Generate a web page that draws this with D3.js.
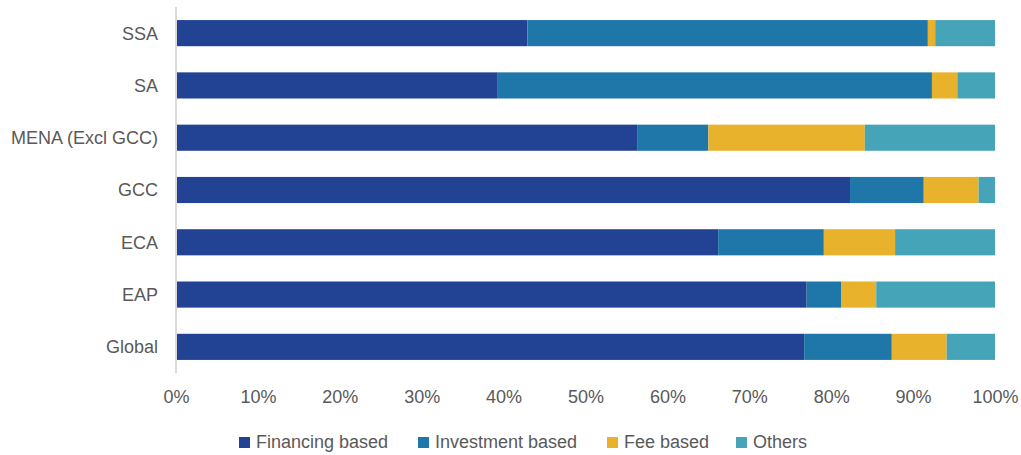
<!DOCTYPE html>
<html>
<head>
<meta charset="utf-8">
<script src="https://cdn.jsdelivr.net/npm/d3@7"></script>
<style>
    body { margin: 0; background: #fff; }
    svg { display: block; font-family: "Liberation Sans", Arial, sans-serif; }
</style>
</head>
<body>
<script>
// regions, top to bottom
const regions = ["SSA", "SA", "MENA (Excl GCC)", "GCC", "ECA", "EAP", "Global"];
const seriesNames = ["Financing based", "Investment based", "Fee based", "Others"];
const seriesColors = ["#224394", "#1f76a8", "#e8b22c", "#46a4b8"];

// shares in %, one list per series, same order as regions
const financing = [42.9, 39.2, 56.3, 82.3, 66.2, 77.0, 76.7];
const investment = [48.9, 53.1, 8.7, 9.0, 12.9, 4.2, 10.7];
const fee = [0.9, 3.1, 19.1, 6.7, 8.7, 4.3, 6.7];
const others = [7.3, 4.6, 15.9, 2.0, 12.2, 14.5, 5.9];

const xTicks = [0, 10, 20, 30, 40, 50, 60, 70, 80, 90, 100];

const width = 1021, height = 455;
const margin = {top: 7, right: 26, bottom: 82, left: 176};
const fontSize = "18px";

const rows = regions.map((r, i) => ({
    region: r,
    "Financing based": financing[i],
    "Investment based": investment[i],
    "Fee based": fee[i],
    "Others": others[i]
}));

const stacked = d3.stack().keys(seriesNames)(rows);

const svg = d3.select("body").append("svg")
    .attr("width", width)
    .attr("height", height);

const x = d3.scaleLinear()
    .domain([0, 100])
    .range([margin.left, width - margin.right]);

const y = d3.scaleBand()
    .domain(regions)
    .range([margin.top, height - margin.bottom])
    .paddingInner(0.5)
    .paddingOuter(0.25);

// bars
svg.append("g")
    .selectAll("g")
    .data(stacked)
    .join("g")
    .attr("fill", (d, i) => seriesColors[i])
    .selectAll("rect")
    .data(d => d)
    .join("rect")
    .attr("x", d => x(d[0]))
    .attr("width", d => x(d[1]) - x(d[0]))
    .attr("y", d => y(d.data.region))
    .attr("height", y.bandwidth());

// vertical axis line
svg.append("line")
    .attr("x1", x(0)).attr("x2", x(0))
    .attr("y1", margin.top).attr("y2", height - margin.bottom)
    .attr("stroke", "#d9d9d9")
    .attr("stroke-width", 2);

// category labels
const yAxis = svg.append("g")
    .attr("transform", `translate(${x(0) - 18},0)`)
    .call(d3.axisLeft(y).tickSize(0).tickPadding(0));
yAxis.select(".domain").remove();
yAxis.selectAll("text")
    .attr("fill", "#595959")
    .attr("font-size", fontSize)
    .attr("dy", "0.36em");

// percent axis
const xAxis = svg.append("g")
    .attr("transform", `translate(0,${height - margin.bottom})`)
    .call(d3.axisBottom(x).tickValues(xTicks).tickFormat(d => d + "%").tickSize(0).tickPadding(0));
xAxis.select(".domain").remove();
xAxis.selectAll("text")
    .attr("fill", "#595959")
    .attr("font-size", fontSize)
    .attr("dy", null)
    .attr("y", 30);

// legend
const legendX = [239, 418, 607, 736];
const legend = svg.append("g")
    .selectAll("g")
    .data(seriesNames)
    .join("g")
    .attr("transform", (d, i) => `translate(${legendX[i]},437)`);
legend.append("rect")
    .attr("width", 11)
    .attr("height", 11)
    .attr("fill", (d, i) => seriesColors[i]);
legend.append("text")
    .attr("x", 17)
    .attr("y", 11)
    .attr("fill", "#595959")
    .attr("font-size", fontSize)
    .text(d => d);
</script>
</body>
</html>
